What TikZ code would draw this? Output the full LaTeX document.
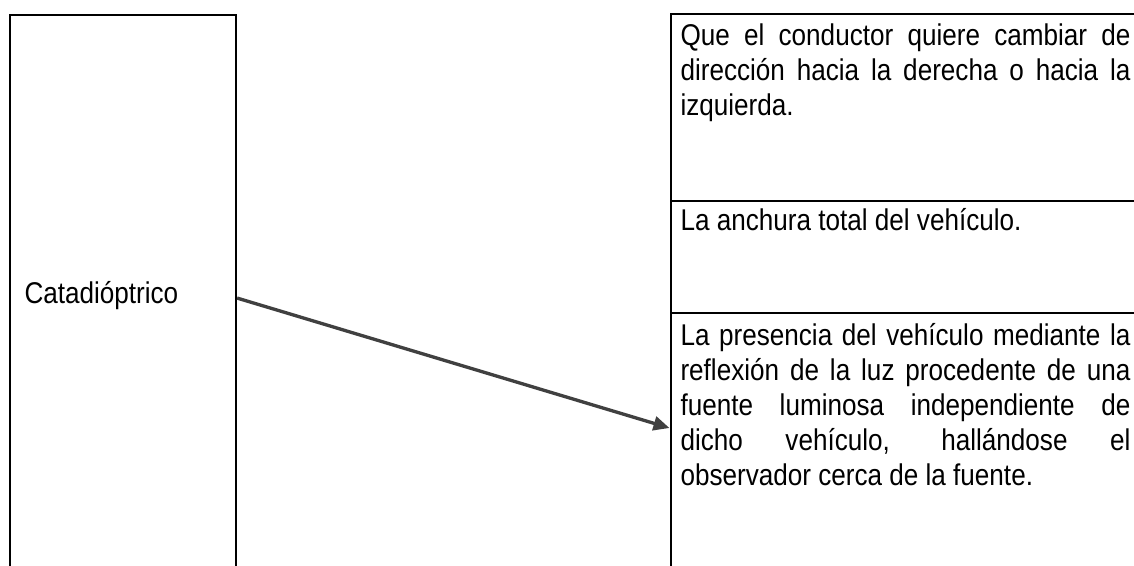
\documentclass[tikz,border=0pt]{standalone}
\usepackage{fontspec}
\setmainfont{Liberation Sans}[FakeStretch=0.87]
\usetikzlibrary{arrows.meta}
\tolerance=10000
\hyphenpenalty=10000

\tikzset{every picture/.style={line width=0.75pt}}
\tikzset{
  caja/.style={draw, line width=1.6pt, inner sep=0pt, anchor=north west},
  texto/.style={font=\fontsize{22.5pt}{26.25pt}\selectfont, inner sep=0pt},
  parrafo/.style={texto, anchor=north west, text width=337.5pt, align=justify},
  flecha/.style={draw={rgb, 255:red, 64; green, 64; blue, 64}, line width=2.5pt, -{Triangle[length=12pt,width=10.5pt]}}
}
\newcommand{\tope}{\rule{0pt}{22.5pt}}

\begin{document}
\begin{tikzpicture}[x=0.75pt,y=0.75pt,yscale=-1]
\useasboundingbox (0,0) rectangle (1134,565);
\clip (0,0) rectangle (1134,565);

%Shape: Rectangle [left column]
\node [caja, minimum width=169.5pt, minimum height=424.5pt] (izq) at (9,14) {};
%Shape: Rectangle [right column, three rows]
\node [caja, minimum width=367.875pt, minimum height=140.25pt] (celda1) at (669.5,13) {};
\node [caja, minimum width=367.875pt, minimum height=84pt] (celda2) at (669.5,200) {};
\node [caja, minimum width=367.875pt, minimum height=216pt] (celda3) at (669.5,312) {};

% Text Node
\node [texto, anchor=base west] (catadioptrico) at (24,303) {Catadióptrico};
% Text Node
\node [parrafo] (conductor) at (680,15) {\tope Que el conductor quiere cambiar de\linebreak dirección hacia la derecha o hacia la\linebreak izquierda.};
% Text Node
\node [parrafo] (anchura) at (680,200) {\tope La anchura total del vehículo.};
% Text Node
\node [parrafo] (presencia) at (680,315) {\tope La presencia del vehículo mediante la\linebreak reflexión de la luz procedente de una\linebreak fuente luminosa independiente de\linebreak dicho vehículo, hallándose el\linebreak observador cerca de la fuente.};

%Straight Lines [arrow]
\coordinate (fin) at (669.5,428);
\draw [flecha] (izq.east) -- (fin);

\end{tikzpicture}
\end{document}
